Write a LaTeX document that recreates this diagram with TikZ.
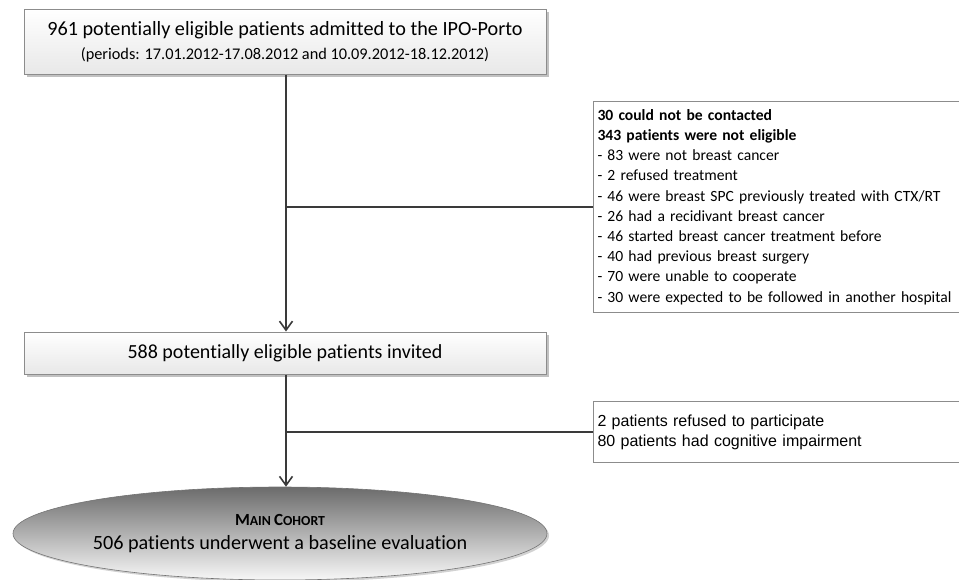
\documentclass[tikz,border=0pt]{standalone}
\usepackage{fontspec}
\setmainfont[Ligatures=NoCommon]{Carlito}
\newfontfamily\arialfont{Liberation Sans}
\usetikzlibrary{arrows.meta,shadows,shapes.geometric}
\definecolor{linec}{HTML}{3A3A3A}
\definecolor{borderc}{HTML}{8C8C8C}
\tikzset{
  mainbox/.style={draw=borderc, line width=1pt, top color=white, bottom color=black!9,
    drop shadow={shadow xshift=2.5pt, shadow yshift=-2.5pt, fill=black!35, opacity=0.7},
    inner sep=0pt, align=center},
  sidebox/.style={draw=borderc, line width=1pt, fill=white, inner sep=0pt, inner xsep=4pt, align=left, anchor=north west},
  conn/.style={draw=linec, line width=1.8pt},
  arr/.style={conn, -{Straight Barb[length=9pt, width=13pt, line width=1.6pt]}},
  cohort/.style={ellipse, draw=black!55, line width=0.6pt, top color=black!58, bottom color=black!3,
    drop shadow={shadow xshift=2pt, shadow yshift=-2pt, fill=black!25, opacity=0.7},
    inner sep=0pt, align=center}
}
\begin{document}
\begin{tikzpicture}[x=1pt,y=-1pt]
\useasboundingbox (0,0) rectangle (959,579);
\node[mainbox, minimum width=522pt, minimum height=65pt, font={\fontsize{20.2}{24}\selectfont}] (b1) at (285,41.5)
  {961 potentially eligible patients admitted to the IPO-Porto\\
   {\fontsize{16.3}{24}\selectfont (periods: 17.01.2012-17.08.2012 and 10.09.2012-18.12.2012)}};
\node[mainbox, minimum width=522pt, minimum height=42pt, font={\fontsize{20}{24}\selectfont}] (b2) at (285,353)
  {588 potentially eligible patients invited};
\node[sidebox, minimum width=385pt, minimum height=211pt, text width=377pt, font={\fontsize{15.6}{20.2}\selectfont}] (s1) at (593,101)
  {\textbf{30 could not be contacted}\\
   \textbf{343 patients were not eligible}\\
   - 83 were not breast cancer\\
   - 2 refused treatment\\
   - 46 were breast SPC previously treated with CTX/RT\\
   - 26 had a recidivant breast cancer\\
   - 46 started breast cancer treatment before\\
   - 40 had previous breast surgery\\
   - 70 were unable to cooperate\\
   - 30 were expected to be followed in another hospital};
\node[sidebox, minimum width=385pt, minimum height=61pt, text width=377pt, font={\arialfont\fontsize{16}{20}\selectfont}] (s2) at (593,401)
  {2 patients refused to participate\\
   80 patients had cognitive impairment};
\node[cohort, minimum width=534pt, minimum height=93pt, font={\fontsize{20.2}{24}\selectfont}] (c) at (280,533.5)
  {{\bfseries\fontsize{17}{24}\selectfont M\fontsize{13.8}{24}\selectfont AIN \fontsize{17}{24}\selectfont C\fontsize{13.8}{24}\selectfont OHORT}\\
   506 patients underwent a baseline evaluation};
\coordinate (j1) at (b1.south -| 286,0);
\coordinate (t1) at (b2.north -| 286,0);
\coordinate (j2) at (b2.south -| 286,0);
\coordinate (t2) at (c.north -| 286,0);
\draw[arr] (j1) -- (t1);
\draw[arr] (j2) -- (t2);
\draw[conn] (j1 |- s1.west) -- (s1.west);
\draw[conn] (j2 |- s2.west) -- (s2.west);
\end{tikzpicture}
\end{document}
